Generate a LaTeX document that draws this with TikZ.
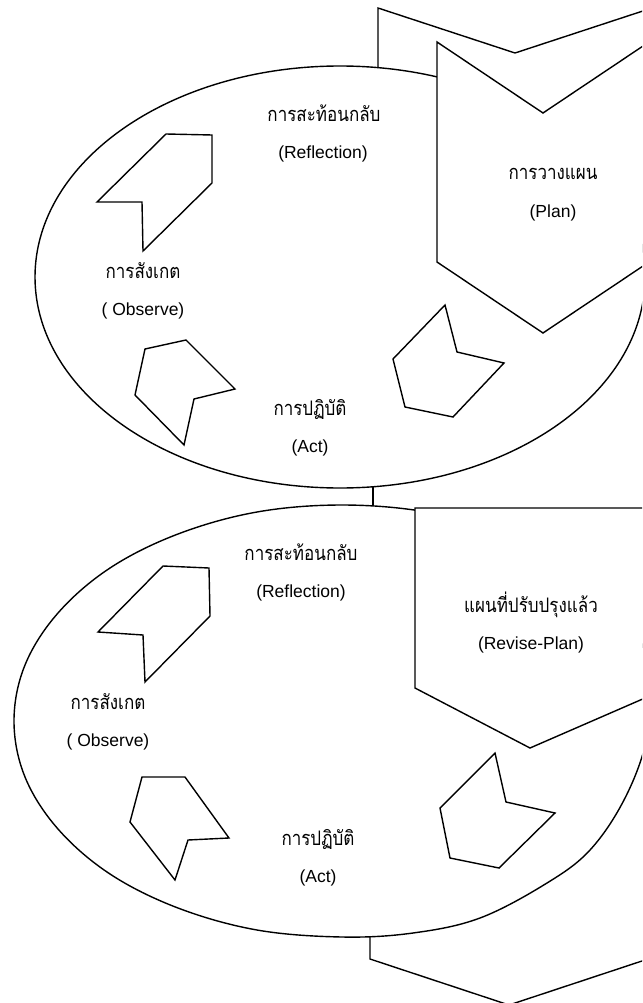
\documentclass[tikz,border=0pt]{standalone}
\usepackage{fontspec}
\setmainfont{Liberation Sans}
\newfontfamily\thaifont[Script=Thai,FakeStretch=0.85]{Loma}
\begin{document}
\begin{tikzpicture}[x=1pt,y=-1pt,line width=1.4pt,line join=miter,
  shp/.style={draw=black,fill=white,line width=1.4pt},
  lat/.style={font=\fontsize{17.5}{19}\selectfont,anchor=base,inner sep=0pt},
  thai/.style={font=\thaifont\fontsize{20}{21}\selectfont,anchor=base,inner sep=0pt}]
\useasboundingbox (0,0) rectangle (642,1003);
\fill[white] (0,0) rectangle (642,1003);
\clip (0,0) rectangle (642,1003);
% shapes behind
\draw (378,95) -- (378,8) -- (515,53) -- (652,8);
\draw (370,900) -- (370,959) -- (509,1005) -- (648,959);
\coordinate (c1) at (373,470);
\coordinate (c2) at (373,520);
\draw (c1) -- (c2);
% ellipse 1
\draw[shp] (340,277) ellipse [x radius=305pt,y radius=211pt];
% ellipse 2
\draw[shp] plot[smooth cycle,tension=0.6] coordinates {(342,505) (427,512) (506,533) (574,568) (625,613) (652,680) (646,742) (624,800) (590,850) (547,883) (480,918) (413,933) (342,937) (257,930) (178,908) (110,874) (58,829) (25,777) (14,721) (25,665) (58,613) (110,568) (178,534) (257,512)};
% plan polygons
\draw[shp] (437,42) -- (543,113) -- (649,42) -- (649,262) -- (543,333) -- (437,262) -- cycle;
\draw[shp] (415,508) -- (645,508) -- (645,698) -- (530,748) -- (415,688) -- cycle;
% small arrows, ellipse 1
\draw[shp] (166,134) -- (212,135) -- (212,183) -- (143,251) -- (142,202) -- (97,202) -- cycle;
\draw[shp] (186,340) -- (145,349) -- (135,395) -- (184,445) -- (194,399) -- (235,389) -- cycle;
\draw[shp] (445,305) -- (457,352) -- (504,363) -- (453,417) -- (405,407) -- (393,359) -- cycle;
% small arrows, ellipse 2
\draw[shp] (163,566) -- (209,568) -- (210,616) -- (145,682) -- (143,635) -- (98,632) -- cycle;
\draw[shp] (142,777) -- (185,777) -- (229,838) -- (188,840) -- (175,880) -- (130,822) -- cycle;
\draw[shp] (495,753) -- (506,802) -- (555,813) -- (499,868) -- (450,858) -- (440,808) -- cycle;
% texts, cycle 1
\node[thai] (r1t) at (324,122) {การสะท้อนกลับ};
\node[lat] (r1e) at (323,159) {(Reflection)};
\node[thai] (p1t) at (553,179) {การวางแผน};
\node[lat] (p1e) at (553,217) {(Plan)};
\node[thai] (o1t) at (143,278) {การสังเกต};
\node[lat] (o1e) at (143,315) {( Observe)};
\node[thai] (a1t) at (310,415) {การปฏิบัติ};
\node[lat] (a1e) at (310,452) {(Act)};
% texts, cycle 2
\node[thai] (r2t) at (301,560) {การสะท้อนกลับ};
\node[lat] (r2e) at (301,597) {(Reflection)};
\node[thai] (p2t) at (531,612) {แผนที่ปรับปรุงแล้ว};
\node[lat] (p2e) at (531,649) {(Revise-Plan)};
\node[thai] (o2t) at (108,709) {การสังเกต};
\node[lat] (o2e) at (108,746) {( Observe)};
\node[thai] (a2t) at (318,845) {การปฏิบัติ};
\node[lat] (a2e) at (318,882) {(Act)};
\end{tikzpicture}
\end{document}
